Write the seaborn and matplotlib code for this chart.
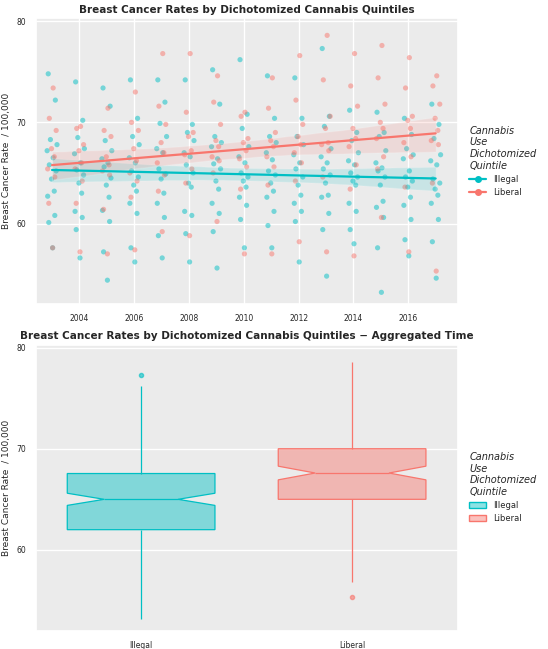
import numpy as np
import pandas as pd
import matplotlib.pyplot as plt
import seaborn as sns
from matplotlib.lines import Line2D
from matplotlib.patches import Patch
from matplotlib.colors import to_rgb

years = list(range(2003, 2018))

# per-year rates (approximate)
illegal_rates = [
    [74.8, 72.2, 68.3, 67.8, 67.2, 66.5, 65.8, 65.2, 64.4, 63.2, 62.7, 60.8, 60.1, 57.6],
    [74.0, 70.2, 68.5, 67.4, 66.9, 66.0, 65.3, 64.8, 64.0, 63.0, 61.2, 60.6, 59.4, 56.6],
    [73.4, 71.6, 68.2, 67.2, 66.4, 66.0, 65.6, 64.5, 63.8, 62.6, 61.3, 60.2, 57.2, 54.4],
    [74.2, 70.4, 68.6, 67.8, 66.5, 66.0, 65.2, 64.6, 63.8, 63.2, 62.0, 61.0, 57.6, 56.2],
    [74.2, 72.0, 69.9, 68.6, 67.4, 67.0, 65.4, 64.9, 64.4, 63.0, 62.0, 60.6, 58.8, 56.6],
    [74.2, 69.8, 69.0, 68.2, 67.0, 66.6, 65.8, 65.0, 64.0, 63.6, 61.2, 60.8, 59.0, 56.2],
    [75.2, 71.8, 68.6, 68.0, 67.6, 66.4, 65.9, 65.4, 64.2, 63.4, 62.0, 61.0, 59.2, 55.6],
    [76.2, 70.8, 69.4, 67.6, 66.6, 66.0, 65.0, 64.6, 64.2, 63.6, 62.6, 61.8, 60.4, 57.6],
    [74.6, 70.4, 68.6, 68.0, 67.0, 66.3, 65.2, 64.8, 64.0, 63.2, 62.6, 61.2, 59.8, 57.6],
    [74.4, 70.4, 68.6, 67.8, 66.8, 66.0, 65.4, 64.6, 63.8, 62.8, 62.0, 61.2, 60.2, 56.2],
    [77.3, 70.6, 69.6, 67.4, 66.6, 66.0, 65.4, 64.8, 64.0, 62.8, 62.6, 61.0, 59.4, 54.8],
    [71.2, 69.0, 68.2, 67.0, 66.2, 65.8, 65.0, 64.6, 64.2, 63.8, 62.0, 61.2, 59.4, 58.0],
    [71.0, 69.0, 68.6, 67.2, 66.0, 65.5, 65.2, 64.6, 63.8, 62.2, 61.6, 60.6, 57.6, 53.2],
    [70.4, 68.8, 67.4, 66.8, 66.4, 65.2, 64.6, 64.2, 63.6, 62.6, 61.8, 60.4, 58.4, 56.8],
    [71.8, 69.8, 68.4, 66.8, 66.2, 65.8, 64.4, 64.0, 63.4, 62.8, 62.0, 60.4, 58.2, 54.6],
]
liberal_rates = [
    [73.4, 70.4, 69.2, 67.4, 66.6, 65.4, 64.6, 62.0, 57.6],
    [69.6, 69.4, 67.8, 67.2, 66.0, 65.4, 64.2, 62.0, 57.2],
    [71.4, 69.2, 68.6, 66.6, 65.8, 65.2, 64.8, 61.4, 57.0],
    [73.0, 70.0, 69.2, 67.4, 66.2, 65.0, 64.2, 62.6, 57.4],
    [76.8, 71.6, 69.8, 68.0, 67.0, 66.0, 64.8, 63.2, 59.2],
    [76.8, 71.0, 69.0, 68.6, 67.2, 66.8, 65.4, 64.0, 58.8],
    [74.6, 72.0, 69.8, 68.2, 67.6, 66.6, 66.2, 65.0, 60.2],
    [71.0, 70.6, 68.4, 68.0, 67.2, 66.4, 65.6, 63.4, 57.0],
    [74.4, 71.4, 69.0, 68.2, 67.6, 66.6, 65.6, 63.8, 57.0],
    [76.6, 72.2, 69.8, 68.6, 67.8, 67.0, 66.0, 64.2, 58.2],
    [78.6, 74.2, 70.6, 69.4, 68.0, 67.8, 67.2, 64.6, 57.2],
    [76.8, 73.6, 71.6, 69.4, 68.4, 67.6, 65.8, 63.4, 56.8],
    [77.6, 74.4, 71.8, 70.0, 69.4, 68.4, 66.6, 65.4, 60.6],
    [76.4, 73.4, 70.6, 70.2, 69.4, 68.0, 66.6, 63.6, 57.2],
    [74.6, 73.6, 71.8, 70.4, 69.2, 68.2, 67.8, 64.0, 55.3],
]

# jitter offsets (position only)
offsets = [-0.14, 0.12, -0.06, 0.18, -0.18, 0.04, -0.1, 0.15, -0.02, 0.08, -0.16, 0.1, -0.12, 0.02]

rows = []
for y, il, lb in zip(years, illegal_rates, liberal_rates):
    for i, v in enumerate(il):
        rows.append(("Illegal", y, y + offsets[i % len(offsets)], v))
    for i, v in enumerate(lb):
        rows.append(("Liberal", y, y + offsets[(i + 5) % len(offsets)], v))
df = pd.DataFrame(rows, columns=["group", "year", "xj", "rate"])

colors = {"Illegal": "#00BFC4", "Liberal": "#F8766D"}
order = ["Illegal", "Liberal"]

sns.set_theme(style="darkgrid", rc={"axes.facecolor": "#EBEBEB", "grid.color": "white"})
plt.rcParams['font.family'] = ['DejaVu Sans']

fig, (ax1, ax2) = plt.subplots(2, 1, figsize=(5.48, 6.49), dpi=100)

for g in order:
    sub = df[df.group == g]
    sns.scatterplot(data=sub, x="xj", y="rate", color=colors[g], alpha=0.5, s=14,
                    edgecolor="none", ax=ax1, legend=False)
for g in order:
    sub = df[df.group == g]
    sns.regplot(data=sub, x="year", y="rate", scatter=False, color=colors[g], ci=95,
                line_kws={"lw": 1.6}, ax=ax1)

ax1.set_title("Breast Cancer Rates by Dichotomized Cannabis Quintiles", fontsize=7.5, fontweight="bold", pad=4)
ax1.set_xlabel("")
ax1.set_ylabel("Breast Cancer Rate  / 100,000", fontsize=6.5)
ax1.set_xlim(2002.4, 2017.8)
ax1.set_ylim(52, 80.3)
ax1.set_xticks(range(2004, 2017, 2))
ax1.set_yticks([60, 70, 80])
ax1.tick_params(labelsize=5.5, pad=1)

# bottom: notched boxplots
for g in order:
    c = colors[g]
    sns.boxplot(data=df[df.group == g], x="group", y="rate", order=order, notch=True,
                color=c, linecolor=c, width=0.7, linewidth=0.9, ax=ax2, showcaps=False,
                whis=1.75, boxprops={"facecolor": (*to_rgb(c), 0.45)},
                flierprops={"marker": "o", "markersize": 3, "markerfacecolor": c,
                            "markeredgecolor": c, "alpha": 0.6})

ax2.set_title("Breast Cancer Rates by Dichotomized Cannabis Quintiles \u2212 Aggregated Time",
              fontsize=7.5, fontweight="bold", pad=4)
ax2.set_xlabel("")
ax2.set_ylabel("Breast Cancer Rate  / 100,000", fontsize=6.5)
ax2.set_ylim(52, 80.3)
ax2.set_yticks([60, 70, 80])
ax2.tick_params(labelsize=5.5, pad=1)

title = "Cannabis\nUse\nDichotomized\nQuintile"
h1 = [Line2D([0], [0], color=colors[g], marker="o", markersize=4, lw=1.6, label=g) for g in order]
h2 = [Patch(facecolor=(*to_rgb(colors[g]), 0.45), edgecolor=colors[g], label=g) for g in order]
for ax, h in [(ax1, h1), (ax2, h2)]:
    leg = ax.legend(handles=h, title=title, loc="center left", bbox_to_anchor=(1.01, 0.5),
                    frameon=False, fontsize=6, title_fontsize=7, alignment="left")
    leg.get_title().set_style("italic")

fig.subplots_adjust(left=0.065, right=0.835, top=0.972, bottom=0.028, hspace=0.14)
fig.savefig("out.png", dpi=100)
